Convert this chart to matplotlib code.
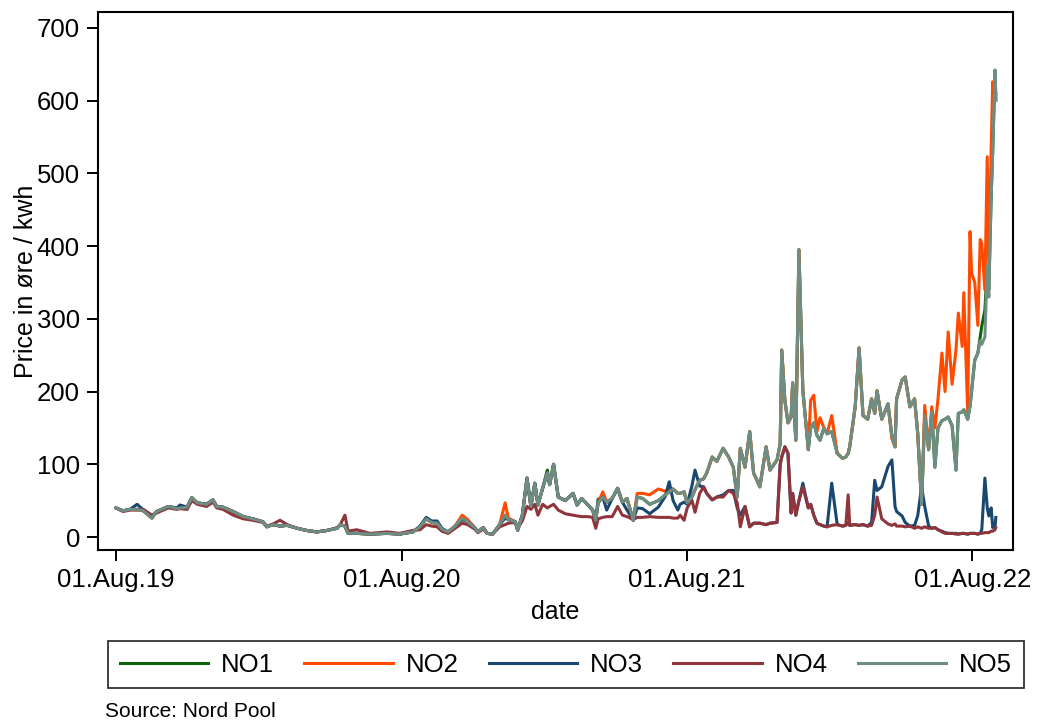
import numpy as np
import matplotlib
matplotlib.use("Agg")
import matplotlib.pyplot as plt
import matplotlib.dates as mdates

plt.rcParams["font.family"] = ["Liberation Sans", "DejaVu Sans"]

# Daily spot prices (øre/kWh) for the five Norwegian bidding zones, sampled
dates = [
    "2019-08-01", "2019-08-10", "2019-08-19", "2019-08-28", "2019-09-05", "2019-09-16",
    "2019-09-22", "2019-10-07", "2019-10-18", "2019-10-22", "2019-10-31", "2019-11-06",
    "2019-11-13", "2019-11-25", "2019-12-03", "2019-12-08", "2019-12-16", "2019-12-29",
    "2020-01-11", "2020-01-23", "2020-02-05", "2020-02-10", "2020-02-18", "2020-02-27",
    "2020-03-07", "2020-03-20", "2020-04-01", "2020-04-14", "2020-04-27", "2020-05-10",
    "2020-05-14", "2020-05-20", "2020-05-24", "2020-06-04", "2020-06-21", "2020-07-13",
    "2020-07-29", "2020-08-15", "2020-08-24", "2020-09-01", "2020-09-08", "2020-09-15",
    "2020-09-21", "2020-09-29", "2020-10-08", "2020-10-17", "2020-10-24", "2020-11-02",
    "2020-11-06", "2020-11-13", "2020-11-18", "2020-11-25", "2020-12-04", "2020-12-11",
    "2020-12-15", "2020-12-24", "2020-12-27",
    "2021-01-02", "2021-01-08", "2021-01-13", "2021-01-18", "2021-01-22", "2021-01-28",
    "2021-02-03", "2021-02-06", "2021-02-11", "2021-02-17", "2021-02-26", "2021-03-08",
    "2021-03-13", "2021-03-19", "2021-03-27", "2021-04-02", "2021-04-06", "2021-04-09",
    "2021-04-15", "2021-04-20", "2021-04-27", "2021-05-04", "2021-05-10", "2021-05-16",
    "2021-05-24", "2021-05-29", "2021-06-05", "2021-06-14", "2021-06-25", "2021-07-04",
    "2021-07-09", "2021-07-14", "2021-07-20", "2021-07-23", "2021-07-28", "2021-08-01",
    "2021-08-07", "2021-08-11", "2021-08-17", "2021-08-22", "2021-08-26", "2021-09-02",
    "2021-09-08", "2021-09-16", "2021-09-23", "2021-09-29", "2021-10-04", "2021-10-08",
    "2021-10-14", "2021-10-20", "2021-10-25", "2021-11-02", "2021-11-10", "2021-11-15",
    "2021-11-24", "2021-11-28", "2021-11-30", "2021-12-04", "2021-12-08", "2021-12-12",
    "2021-12-14", "2021-12-18", "2021-12-22", "2021-12-27",
    "2022-01-03", "2022-01-06", "2022-01-10", "2022-01-14", "2022-01-18", "2022-01-23",
    "2022-01-27", "2022-02-02", "2022-02-09", "2022-02-16", "2022-02-20", "2022-02-23",
    "2022-02-25", "2022-03-04", "2022-03-09", "2022-03-14", "2022-03-20", "2022-03-25",
    "2022-03-29", "2022-04-01", "2022-04-07", "2022-04-15", "2022-04-20", "2022-04-24",
    "2022-04-26", "2022-05-03", "2022-05-07", "2022-05-13", "2022-05-19", "2022-05-23",
    "2022-05-28", "2022-06-01", "2022-06-06", "2022-06-10", "2022-06-14", "2022-06-18",
    "2022-06-23", "2022-06-27", "2022-07-01", "2022-07-06", "2022-07-11", "2022-07-14",
    "2022-07-19", "2022-07-21", "2022-07-26", "2022-07-29", "2022-07-31", "2022-08-04",
    "2022-08-08", "2022-08-11", "2022-08-13", "2022-08-17", "2022-08-20", "2022-08-22",
    "2022-08-25", "2022-08-27", "2022-08-30", "2022-08-31",
]

no1 = [
    40, 36, 38, 38, 36, 26, 35, 42, 39, 40, 41, 54, 47, 45, 51, 42, 41, 35,
    28, 25, 21, 14, 17, 15, 16, 12, 9, 7, 9, 12, 17, 15, 5, 5, 4, 5,
    4, 7, 14, 25, 20, 19, 11, 7, 15, 26, 21, 13, 7, 13, 5, 4, 17, 30,
    24, 21, 9,
    30, 81, 42, 74, 44, 67, 92, 72, 100, 55, 50, 60, 44, 53, 44, 37, 23, 52,
    55, 48, 53, 67, 48, 53, 23, 55, 53, 45, 50, 58, 62, 66, 60, 60, 62, 47,
    55, 65, 78, 80, 88, 110, 104, 122, 110, 96, 55, 122, 96, 145, 88, 69, 124, 92,
    106, 128, 257, 188, 157, 165, 212, 133, 395, 202,
    120, 150, 157, 140, 133, 150, 142, 145, 115, 108, 110, 115, 124, 179, 260, 167,
    162, 190, 170, 201, 162, 183, 139, 124, 190, 216, 220, 179, 190, 143, 45, 167,
    120, 172, 96, 150, 160, 162, 165, 153, 92, 170, 172, 175, 162, 180, 201, 243,
    253, 275, 290, 312, 372, 340, 468, 530, 642, 601,
]

no2 = [
    40, 36, 38, 38, 36, 26, 35, 42, 39, 40, 41, 54, 47, 45, 51, 42, 41, 35,
    28, 25, 21, 14, 17, 15, 16, 12, 9, 7, 9, 12, 17, 15, 5, 5, 4, 5,
    4, 7, 14, 25, 20, 19, 11, 7, 15, 30, 24, 13, 7, 13, 5, 4, 17, 47,
    26, 21, 9,
    30, 81, 42, 74, 44, 67, 88, 72, 100, 55, 50, 60, 44, 53, 44, 37, 23, 47,
    62, 48, 53, 67, 48, 53, 23, 60, 60, 58, 66, 63, 64, 66, 60, 60, 62, 47,
    55, 65, 78, 80, 88, 110, 104, 122, 110, 96, 55, 122, 96, 145, 88, 69, 124, 92,
    106, 128, 257, 188, 157, 165, 212, 133, 395, 202,
    120, 188, 195, 145, 164, 150, 142, 167, 115, 108, 110, 115, 124, 179, 260, 167,
    162, 190, 170, 201, 162, 183, 135, 124, 190, 216, 220, 179, 190, 143, 45, 181,
    120, 179, 150, 190, 253, 200, 282, 210, 257, 308, 262, 336, 172, 420, 363, 350,
    291, 409, 404, 340, 523, 367, 532, 626, 600, 610,
]

no3 = [
    40, 36, 38, 45, 37, 28, 35, 42, 40, 44, 41, 54, 47, 45, 51, 42, 41, 35,
    28, 25, 21, 14, 17, 15, 16, 12, 9, 7, 9, 12, 17, 15, 5, 5, 4, 5,
    4, 7, 15, 27, 22, 22, 12, 7, 15, 24, 21, 13, 7, 13, 5, 4, 17, 26,
    24, 21, 10,
    30, 81, 42, 74, 44, 67, 88, 72, 100, 55, 50, 60, 44, 53, 44, 37, 23, 47,
    55, 37, 53, 67, 48, 37, 23, 40, 39, 32, 41, 56, 76, 50, 37, 45, 48, 45,
    70, 92, 70, 69, 60, 51, 55, 58, 64, 64, 40, 30, 42, 14, 19, 19, 17, 19,
    20, 100, 110, 124, 115, 33, 60, 30, 50, 74,
    40, 45, 30, 19, 17, 15, 14, 74, 17, 15, 16, 20, 16, 17, 16, 17,
    15, 20, 78, 64, 69, 97, 106, 42, 35, 29, 20, 15, 16, 29, 69, 42,
    15, 12, 13, 10, 8, 6, 5, 5, 5, 4, 5, 5, 4, 5, 5, 5,
    4, 5, 10, 81, 40, 29, 40, 13, 15, 27,
]

no4 = [
    40, 35, 37, 37, 38, 30, 33, 40, 38, 39, 38, 50, 45, 42, 48, 40, 38, 30,
    25, 23, 20, 15, 18, 23, 17, 12, 9, 7, 9, 13, 17, 30, 8, 10, 5, 7,
    5, 9, 10, 17, 15, 14, 8, 5, 12, 19, 17, 11, 6, 11, 5, 4, 14, 17,
    19, 20, 12,
    22, 42, 38, 45, 30, 45, 40, 42, 45, 37, 32, 30, 29, 28, 28, 27, 12, 25,
    27, 28, 28, 42, 30, 28, 24, 27, 27, 28, 27, 27, 27, 26, 26, 30, 23, 40,
    51, 34, 60, 69, 60, 51, 55, 55, 64, 60, 47, 14, 42, 14, 19, 19, 17, 19,
    20, 100, 110, 124, 115, 33, 60, 30, 50, 69,
    40, 45, 30, 19, 17, 15, 14, 16, 17, 15, 16, 58, 16, 17, 16, 17,
    15, 16, 30, 55, 25, 18, 16, 18, 15, 15, 14, 15, 12, 14, 12, 14,
    12, 12, 13, 10, 7, 5, 5, 5, 4, 4, 5, 5, 4, 5, 5, 5,
    4, 5, 5, 6, 6, 6, 8, 8, 10, 13,
]

no5 = [
    40, 36, 38, 38, 36, 26, 35, 42, 39, 40, 41, 54, 47, 45, 51, 42, 41, 35,
    28, 25, 21, 14, 17, 15, 16, 12, 9, 7, 9, 12, 17, 15, 5, 5, 4, 5,
    4, 7, 14, 25, 20, 19, 11, 7, 15, 26, 21, 13, 7, 13, 5, 4, 17, 30,
    24, 21, 9,
    30, 81, 42, 74, 44, 67, 88, 72, 100, 55, 50, 60, 44, 53, 44, 37, 23, 47,
    55, 48, 53, 67, 48, 53, 23, 55, 53, 45, 50, 58, 62, 66, 60, 60, 62, 47,
    55, 65, 78, 80, 88, 110, 104, 122, 110, 96, 55, 122, 96, 145, 88, 69, 124, 92,
    106, 128, 257, 188, 157, 165, 212, 133, 395, 202,
    120, 150, 157, 140, 133, 150, 142, 145, 115, 108, 110, 115, 124, 179, 260, 167,
    162, 190, 170, 201, 162, 183, 139, 124, 190, 216, 220, 179, 190, 143, 45, 167,
    120, 172, 96, 150, 160, 162, 165, 153, 92, 170, 172, 175, 162, 180, 201, 243,
    253, 270, 265, 275, 372, 330, 468, 530, 642, 601,
]

zones = ["NO1", "NO2", "NO3", "NO4", "NO5"]
series = [no1, no2, no3, no4, no5]
colors = ["#0b640b", "#ff4a00", "#1a476f", "#90353b", "#6e8e84"]

x_ticks = ["2019-08-01", "2020-08-01", "2021-08-01", "2022-08-01"]

t = np.array(dates, dtype="datetime64[D]")

fig = plt.figure(figsize=(10.45, 7.22), dpi=100)
ax = fig.add_axes([0.0938, 0.2382, 0.9694 - 0.0938, 0.9834 - 0.2382])

for name, vals, col in zip(zones, series, colors):
    ax.plot(t, vals, color=col, lw=2.2, label=name, solid_joinstyle="round")

ax.set_ylim(-17.9, 722)
ax.set_yticks(np.arange(0, 701, 100))
ax.set_xlim(np.datetime64("2019-07-09"), np.datetime64("2022-09-22"))
ax.set_xticks(np.array(x_ticks, dtype="datetime64[D]"))
ax.xaxis.set_major_formatter(mdates.DateFormatter("%d.%b.%y"))

ax.tick_params(axis="both", direction="out", length=8, width=1.4,
               labelsize=18.5, colors="black", pad=5)
ax.tick_params(top=False, right=False)
for sp in ax.spines.values():
    sp.set_linewidth(1.5)
    sp.set_color("black")

ax.set_ylabel("Price in øre / kwh", fontsize=18, labelpad=-1)
ax.set_xlabel("date", fontsize=18, labelpad=6)

leg = fig.legend(loc="center", bbox_to_anchor=(0.5416, 0.0796), ncol=5,
                 fontsize=18.5, frameon=True, fancybox=False, handlelength=3.45,
                 handletextpad=0.5, columnspacing=1.17, borderpad=0.45)
leg.get_frame().set_edgecolor("black")
leg.get_frame().set_linewidth(1.3)
for ln in leg.get_lines():
    ln.set_linewidth(2.2)

fig.text(0.1005, 0.0015, "Source: Nord Pool", fontsize=15, ha="left", va="bottom")

fig.savefig("out.png", dpi=100, facecolor="white")
